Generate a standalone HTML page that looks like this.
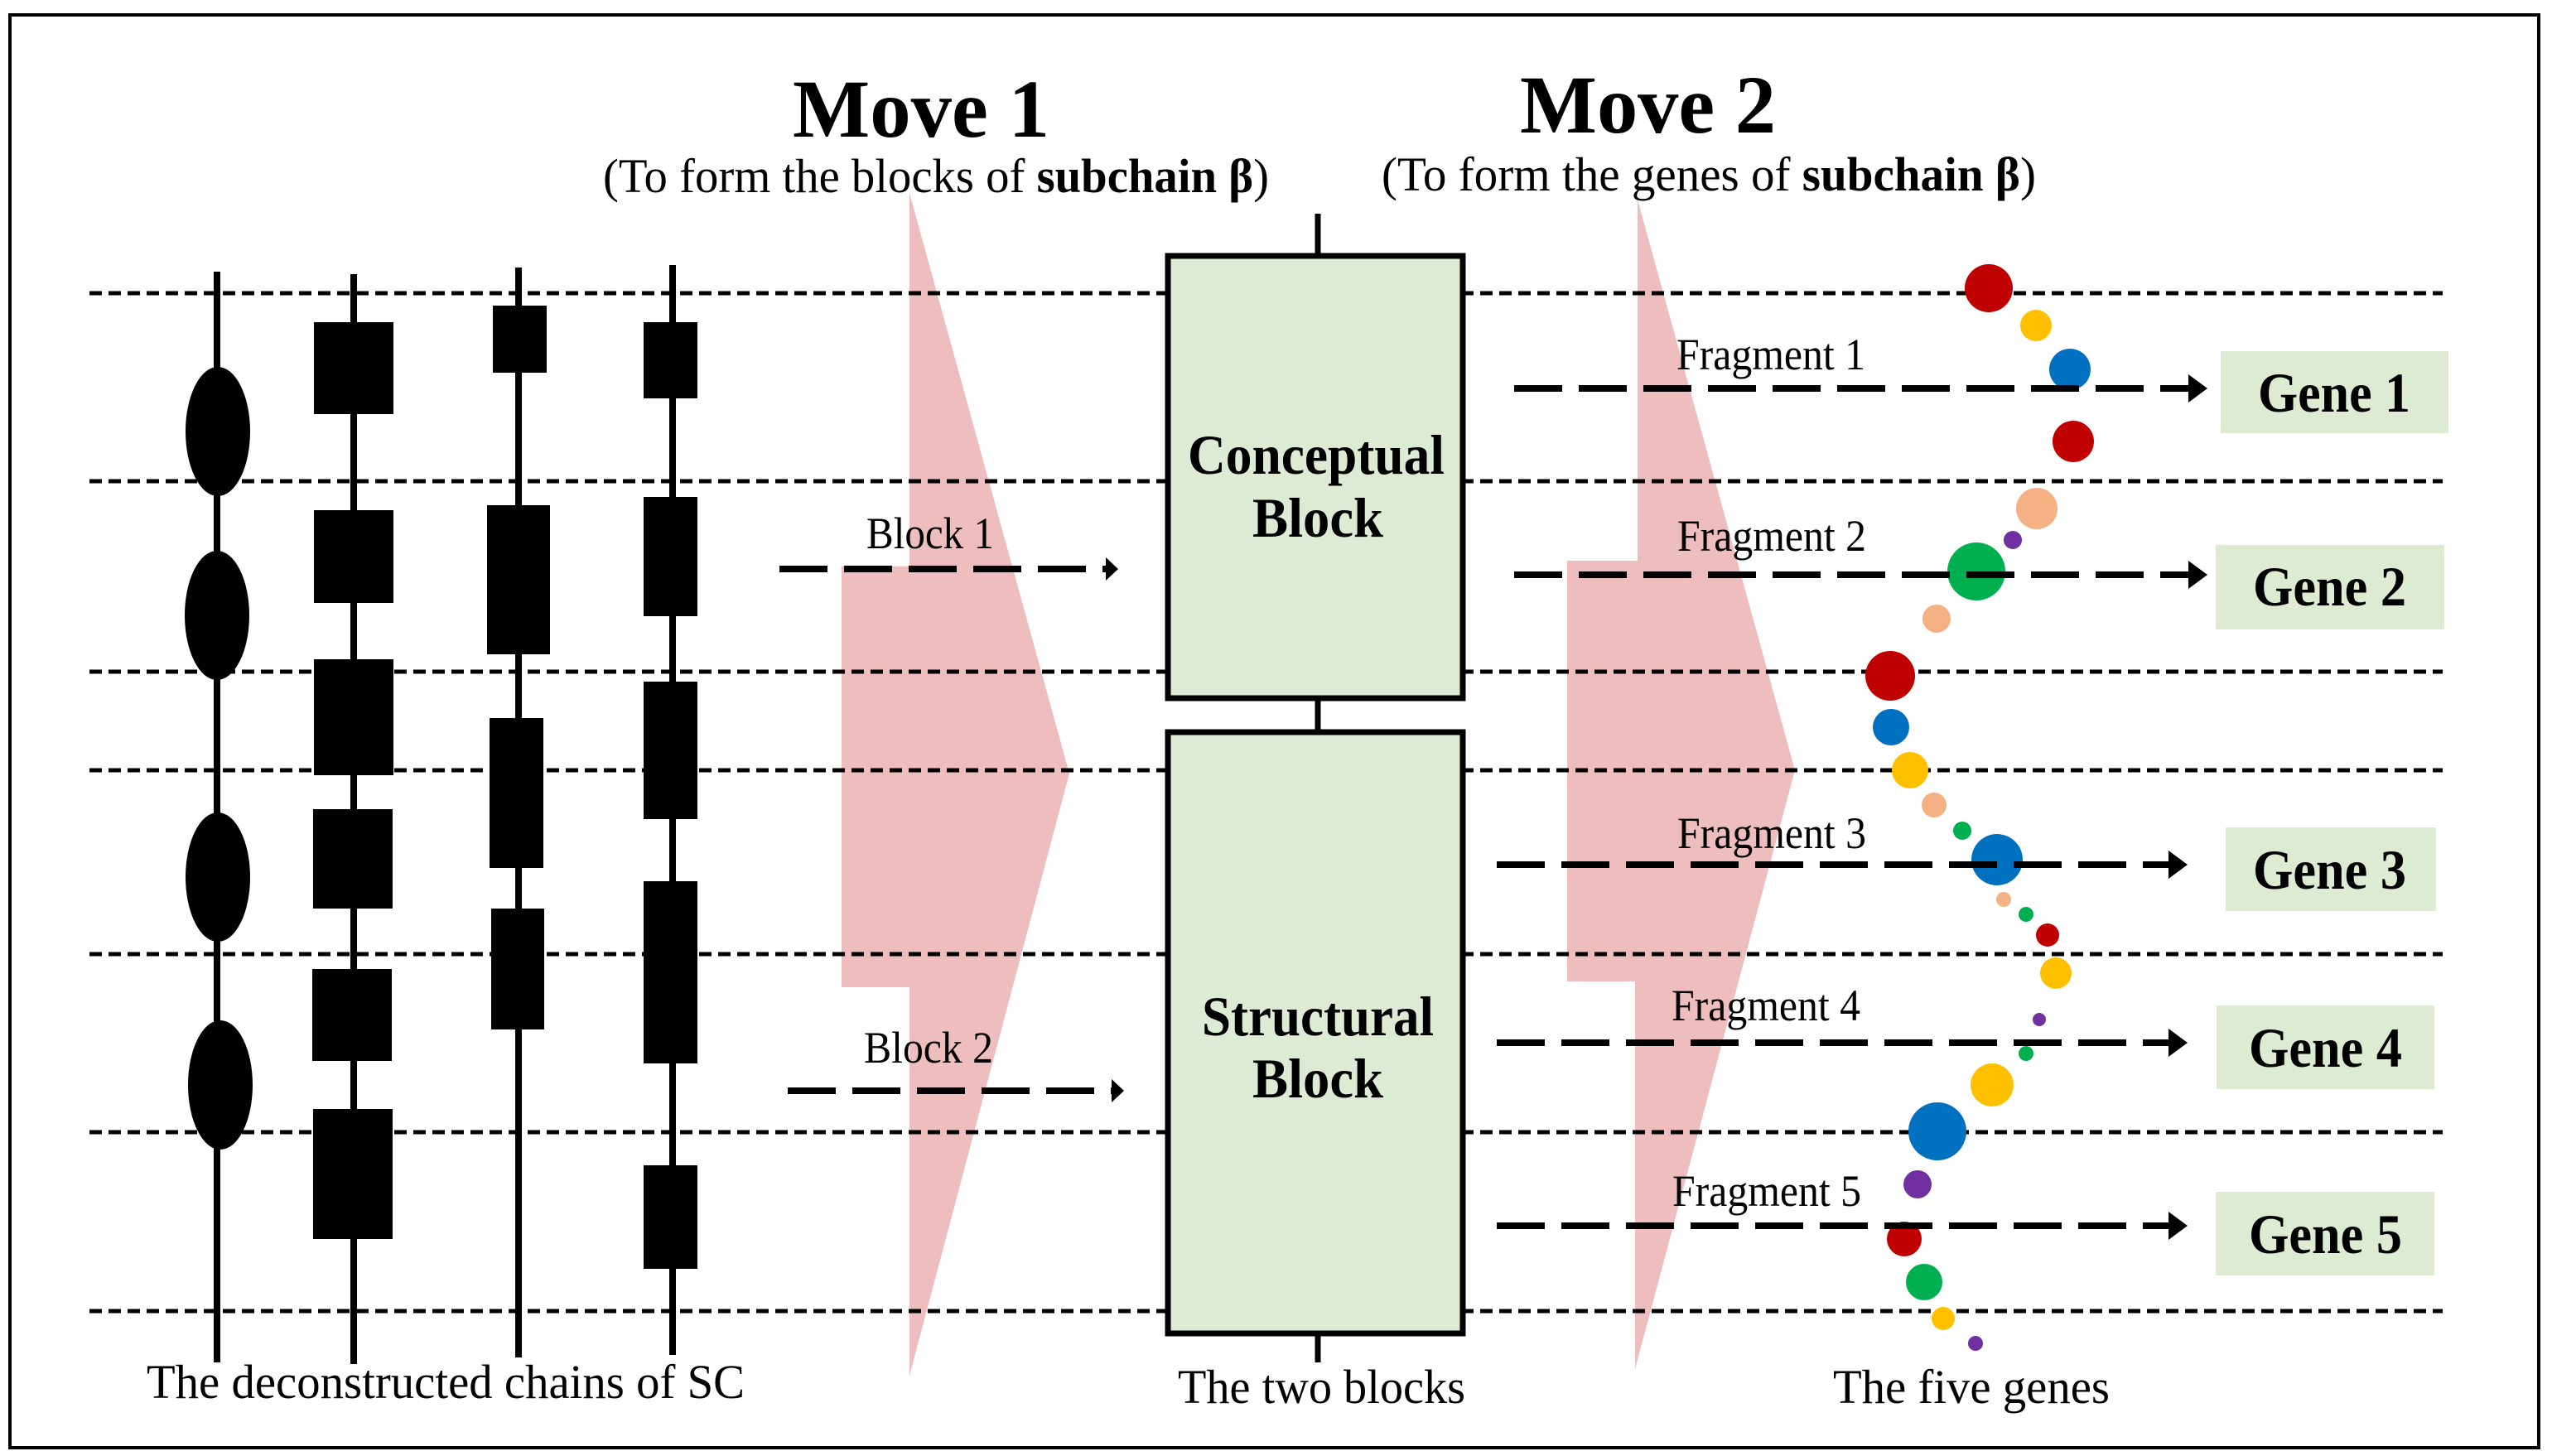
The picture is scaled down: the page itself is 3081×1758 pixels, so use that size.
<!DOCTYPE html>
<html><head><meta charset="utf-8"><style>
html,body{margin:0;padding:0;background:#fff}
svg{display:block}
text{font-family:"Liberation Serif",serif}
</style></head><body>
<svg width="3081" height="1758" viewBox="0 0 3081 1758" xmlns="http://www.w3.org/2000/svg">
<rect x="12" y="18" width="3053" height="1730" fill="#fff" stroke="#000" stroke-width="4"/>
<polygon points="1098,233 1291,934 1098,1661 1098,1192 1016,1192 1016,684 1098,684" fill="#EEBDBE"/>
<polygon points="1977,241 2167,930 1974,1653 1974,1185 1892,1185 1892,677 1977,677" fill="#EEBDBE"/>
<g stroke="#000" stroke-width="5" stroke-dasharray="15 8">
<line x1="108" y1="354" x2="2949" y2="354"/>
<line x1="108" y1="581" x2="2949" y2="581"/>
<line x1="108" y1="811" x2="2949" y2="811"/>
<line x1="108" y1="930" x2="2949" y2="930"/>
<line x1="108" y1="1152" x2="2949" y2="1152"/>
<line x1="108" y1="1367" x2="2949" y2="1367"/>
<line x1="108" y1="1583" x2="2949" y2="1583"/>
</g>
<g stroke="#000" stroke-width="8">
<line x1="262" y1="328" x2="262" y2="1645"/>
<line x1="427" y1="331" x2="427" y2="1647"/>
<line x1="626" y1="323" x2="626" y2="1639"/>
<line x1="812" y1="320" x2="812" y2="1636"/>
</g>
<g fill="#000">
<ellipse cx="263" cy="521" rx="39" ry="78"/>
<ellipse cx="262" cy="743" rx="39" ry="78"/>
<ellipse cx="263" cy="1059" rx="39" ry="78"/>
<ellipse cx="266" cy="1310" rx="39" ry="78"/>
<rect x="379" y="389" width="96" height="111"/>
<rect x="379" y="616" width="96" height="112"/>
<rect x="379" y="796" width="96" height="140"/>
<rect x="378" y="977" width="96" height="120"/>
<rect x="377" y="1170" width="96" height="111"/>
<rect x="378" y="1339" width="96" height="157"/>
<rect x="595" y="369" width="65" height="81"/>
<rect x="588" y="610" width="76" height="180"/>
<rect x="591" y="867" width="65" height="181"/>
<rect x="593" y="1097" width="64" height="146"/>
<rect x="777" y="389" width="65" height="92"/>
<rect x="777" y="600" width="65" height="144"/>
<rect x="777" y="823" width="65" height="166"/>
<rect x="777" y="1064" width="65" height="220"/>
<rect x="777" y="1407" width="65" height="125"/>
</g>
<g stroke="#000" stroke-width="7">
<line x1="1591" y1="258" x2="1591" y2="1645"/>
<rect x="1410" y="309" width="356" height="534" fill="#DDEBD4"/>
<rect x="1410" y="884" width="356" height="726" fill="#DDEBD4"/>
</g>
<g font-weight="bold" font-size="68">
<text x="1434" y="572" textLength="310" lengthAdjust="spacingAndGlyphs">Conceptual</text>
<text x="1512" y="648" textLength="158" lengthAdjust="spacingAndGlyphs">Block</text>
<text x="1451" y="1250" textLength="280" lengthAdjust="spacingAndGlyphs">Structural</text>
<text x="1512" y="1325" textLength="158" lengthAdjust="spacingAndGlyphs">Block</text>
</g>
<text x="957" y="165" font-size="100" font-weight="bold" textLength="310" lengthAdjust="spacingAndGlyphs">Move 1</text>
<text x="728" y="232" font-size="58" textLength="804" lengthAdjust="spacingAndGlyphs">(To form the blocks of <tspan font-weight="bold">subchain β</tspan>)</text>
<text x="1835" y="160" font-size="100" font-weight="bold" textLength="309" lengthAdjust="spacingAndGlyphs">Move 2</text>
<text x="1668" y="230" font-size="58" textLength="790" lengthAdjust="spacingAndGlyphs">(To form the genes of <tspan font-weight="bold">subchain β</tspan>)</text>
<g>
<circle cx="2401" cy="348" r="29" fill="#C00000"/>
<circle cx="2458" cy="393" r="19" fill="#FFC000"/>
<circle cx="2499" cy="446" r="25" fill="#0070C0"/>
<circle cx="2503" cy="533" r="25" fill="#C00000"/>
<circle cx="2459" cy="614" r="25" fill="#F4B183"/>
<circle cx="2430" cy="652" r="11" fill="#7030A0"/>
<circle cx="2386" cy="690" r="35" fill="#00B050"/>
<circle cx="2338" cy="747" r="17" fill="#F4B183"/>
<circle cx="2282" cy="816" r="30" fill="#C00000"/>
<circle cx="2283" cy="878" r="22" fill="#0070C0"/>
<circle cx="2306" cy="930" r="22" fill="#FFC000"/>
<circle cx="2335" cy="972" r="15" fill="#F4B183"/>
<circle cx="2369" cy="1003" r="11" fill="#00B050"/>
<circle cx="2411" cy="1038" r="31" fill="#0070C0"/>
<circle cx="2419" cy="1086" r="9" fill="#F4B183"/>
<circle cx="2446" cy="1104" r="9" fill="#00B050"/>
<circle cx="2472" cy="1129" r="14" fill="#C00000"/>
<circle cx="2482" cy="1175" r="19" fill="#FFC000"/>
<circle cx="2462" cy="1231" r="8" fill="#7030A0"/>
<circle cx="2446" cy="1272" r="9" fill="#00B050"/>
<circle cx="2405" cy="1310" r="26" fill="#FFC000"/>
<circle cx="2339" cy="1366" r="35" fill="#0070C0"/>
<circle cx="2315" cy="1430" r="17" fill="#7030A0"/>
<circle cx="2299" cy="1496" r="21" fill="#C00000"/>
<circle cx="2323" cy="1548" r="22" fill="#00B050"/>
<circle cx="2346" cy="1592" r="14" fill="#FFC000"/>
<circle cx="2385" cy="1622" r="9" fill="#7030A0"/>
</g>
<g stroke="#000" stroke-width="8" stroke-dasharray="58 20">
<line x1="941" y1="687" x2="1336" y2="687"/>
<line x1="951" y1="1317" x2="1343" y2="1317"/>
<line x1="1828" y1="469" x2="2650" y2="469"/>
<line x1="1828" y1="694" x2="2650" y2="694"/>
<line x1="1807" y1="1044" x2="2626" y2="1044"/>
<line x1="1807" y1="1259" x2="2626" y2="1259"/>
<line x1="1807" y1="1480" x2="2626" y2="1480"/>
</g>
<g fill="#000">
<polygon points="1335,673 1350,687 1335,701"/>
<polygon points="1342,1303 1357,1317 1342,1331"/>
<polygon points="2642,452 2665,469 2642,486"/>
<polygon points="2642,677 2665,694 2642,711"/>
<polygon points="2618,1027 2641,1044 2618,1061"/>
<polygon points="2618,1242 2641,1259 2618,1276"/>
<polygon points="2618,1463 2641,1480 2618,1497"/>
</g>
<g font-size="54">
<text x="1046" y="662" textLength="154" lengthAdjust="spacingAndGlyphs">Block 1</text>
<text x="1043" y="1283" textLength="156" lengthAdjust="spacingAndGlyphs">Block 2</text>
<text x="2024" y="446" textLength="228" lengthAdjust="spacingAndGlyphs">Fragment 1</text>
<text x="2025" y="665" textLength="228" lengthAdjust="spacingAndGlyphs">Fragment 2</text>
<text x="2025" y="1024" textLength="228" lengthAdjust="spacingAndGlyphs">Fragment 3</text>
<text x="2018" y="1232" textLength="228" lengthAdjust="spacingAndGlyphs">Fragment 4</text>
<text x="2019" y="1456" textLength="228" lengthAdjust="spacingAndGlyphs">Fragment 5</text>
</g>
<g fill="#DDEBD3">
<rect x="2681" y="424" width="275" height="99"/>
<rect x="2675" y="658" width="276" height="102"/>
<rect x="2687" y="999" width="254" height="101"/>
<rect x="2676" y="1214" width="263" height="101"/>
<rect x="2675" y="1439" width="264" height="101"/>
</g>
<g font-size="68" font-weight="bold">
<text x="2726" y="497" textLength="184" lengthAdjust="spacingAndGlyphs">Gene 1</text>
<text x="2720" y="731" textLength="185" lengthAdjust="spacingAndGlyphs">Gene 2</text>
<text x="2720" y="1073" textLength="185" lengthAdjust="spacingAndGlyphs">Gene 3</text>
<text x="2715" y="1288" textLength="185" lengthAdjust="spacingAndGlyphs">Gene 4</text>
<text x="2715" y="1513" textLength="185" lengthAdjust="spacingAndGlyphs">Gene 5</text>
</g>
<g font-size="58">
<text x="177" y="1688" textLength="722" lengthAdjust="spacingAndGlyphs">The deconstructed chains of SC</text>
<text x="1422" y="1694" textLength="347" lengthAdjust="spacingAndGlyphs">The two blocks</text>
<text x="2213" y="1694" textLength="334" lengthAdjust="spacingAndGlyphs">The five genes</text>
</g>
</svg>
</body></html>
